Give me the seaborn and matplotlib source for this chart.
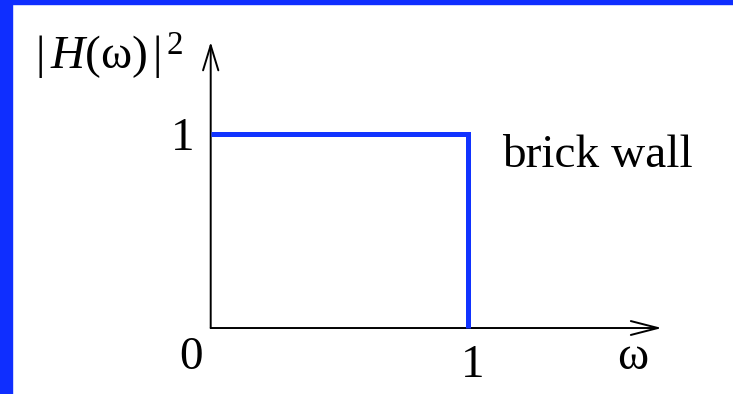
import seaborn as sns
import matplotlib.pyplot as plt
from matplotlib.patches import Rectangle

sns.set_theme(style="white")
plt.rcParams['font.family'] = ['Liberation Serif', 'DejaVu Serif']
plt.rcParams['text.color'] = 'black'
plt.rcParams['mathtext.fontset'] = 'custom'
plt.rcParams['mathtext.rm'] = 'Liberation Serif'
plt.rcParams['mathtext.it'] = 'Liberation Serif:italic'

# brick wall response
omega = [0, 1, 1]
gain = [1, 1, 0]
x_ticks = ['0', '1']
y_label = r'$|\,H(\mathrm{\omega})\,|^{\,2}$'
x_label = r'$\mathrm{\omega}$'
note = 'brick wall'

blue = '#1133ff'

fig = plt.figure(figsize=(7.33, 3.94), dpi=100)
ax = fig.add_axes([0, 0, 1, 1])
ax.set_xlim(-0.8173, 2.026)
ax.set_ylim(-0.341, 1.695)
ax.axis('off')

# frame strips on the slide
fig.patches.append(Rectangle((0, 0), 12 / 733, 1, transform=fig.transFigure,
                             color='#0f2eff', zorder=0))
fig.patches.append(Rectangle((0, 1 - 4 / 394), 1, 4 / 394, transform=fig.transFigure,
                             color='#0f2eff', zorder=0))

# axes with arrows
ax.annotate('', xy=(1.75, 0), xytext=(0, 0),
            arrowprops=dict(arrowstyle='->,head_length=1.95,head_width=0.5',
                            lw=1.4, color='black', shrinkA=0, shrinkB=0,
                            mutation_scale=10))
ax.annotate('', xy=(0, 1.478), xytext=(0, 0),
            arrowprops=dict(arrowstyle='->,head_length=1.8,head_width=0.55',
                            lw=1.4, color='black', shrinkA=0, shrinkB=0,
                            mutation_scale=10))

sns.lineplot(x=omega, y=gain, sort=False, estimator=None, color=blue,
             linewidth=3.6, ax=ax, zorder=3)
ax.lines[-1].set_solid_joinstyle('miter')
ax.lines[-1].set_solid_capstyle('butt')

fs = 34
ax.text(-0.078, -0.212, x_ticks[0], fontsize=fs, ha='center', va='baseline')
ax.text(1.017, -0.253, x_ticks[1], fontsize=fs, ha='center', va='baseline')
ax.text(1.638, -0.212, x_label, fontsize=fs, ha='center', va='baseline')
ax.text(-0.107, 0.920, '1', fontsize=fs, ha='center', va='baseline')
ax.text(1.130, 0.832, note, fontsize=fs, ha='left', va='baseline')
ax.text(-0.682, 1.333, y_label, fontsize=fs, ha='left', va='baseline')

plt.savefig('out.png', dpi=100)
plt.close()
